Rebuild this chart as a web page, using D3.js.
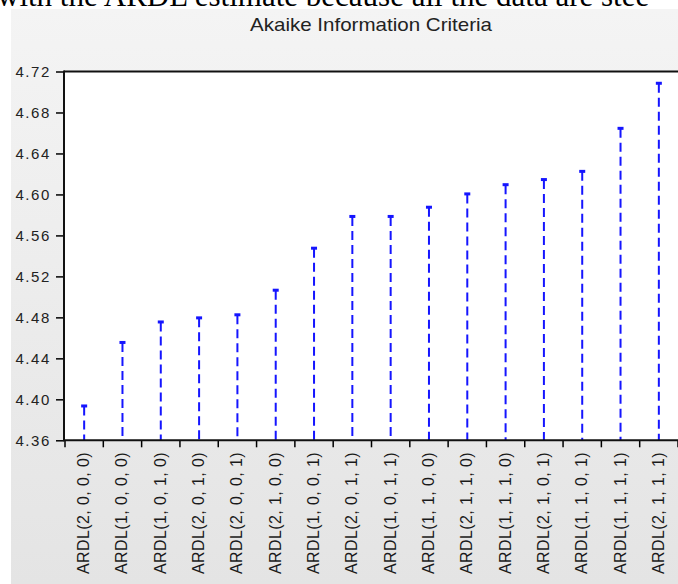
<!DOCTYPE html>
<html><head><meta charset="utf-8">
<script src="https://cdn.jsdelivr.net/npm/d3@7"></script>
<style>html,body{margin:0;padding:0;background:#fff;overflow:hidden}</style>
</head><body><svg id="c" width="678" height="584"></svg>
<script>
const categories = ["ARDL(2, 0, 0, 0)","ARDL(1, 0, 0, 0)","ARDL(1, 0, 1, 0)","ARDL(2, 0, 1, 0)","ARDL(2, 0, 0, 1)","ARDL(2, 1, 0, 0)","ARDL(1, 0, 0, 1)","ARDL(2, 0, 1, 1)","ARDL(1, 0, 1, 1)","ARDL(1, 1, 0, 0)","ARDL(2, 1, 1, 0)","ARDL(1, 1, 1, 0)","ARDL(2, 1, 0, 1)","ARDL(1, 1, 0, 1)","ARDL(1, 1, 1, 1)","ARDL(2, 1, 1, 1)"];
const aicValues = [4.394, 4.456, 4.476, 4.480, 4.483, 4.507, 4.548, 4.579, 4.579, 4.588, 4.601, 4.610, 4.615, 4.623, 4.665, 4.709];
const yTicks = [4.36, 4.40, 4.44, 4.48, 4.52, 4.56, 4.60, 4.64, 4.68, 4.72];
const title = "Akaike Information Criteria";
const aboveText = "with the ARDL estimate because all the data are stee";

const svg = d3.select("#c");
const defs = svg.append("defs");
const g = defs.append("linearGradient").attr("id","bg").attr("x1",0).attr("y1",0).attr("x2",0).attr("y2",1);
g.append("stop").attr("offset","0%").attr("stop-color","#f4f4f4");
g.append("stop").attr("offset","100%").attr("stop-color","#e4e4e4");

svg.append("text").attr("x",-3).attr("y",6).attr("font-family","Liberation Serif").attr("font-size",31)
  .attr("fill","#000").text(aboveText);

svg.append("rect").attr("x",11).attr("y",9).attr("width",667).attr("height",575).attr("fill","url(#bg)");

const pLeft = 64, pRight = 678, pTop = 71.5, pBottom = 440.3;
const y = d3.scaleLinear().domain([4.36, 4.72]).range([pBottom, pTop]);
const x = d3.scaleBand().domain(categories).range([65, 678]).paddingInner(0).paddingOuter(0);

svg.append("rect").attr("x",pLeft).attr("y",pTop).attr("width",pRight-pLeft).attr("height",pBottom-pTop).attr("fill","#fff");

svg.append("text").attr("x",371).attr("y",31).attr("text-anchor","middle")
  .attr("font-family","Liberation Sans, Arial").attr("font-size",19).attr("fill","#222")
  .attr("textLength",242).attr("lengthAdjust","spacingAndGlyphs").text(title);

// stems
const stems = svg.append("g");
categories.forEach((c,i)=>{
  const cx = x(c) + x.bandwidth()/2;
  stems.append("line").attr("x1",cx).attr("x2",cx).attr("y1",y(aicValues[i])+1).attr("y2",y(4.36))
    .attr("stroke","#1515ff").attr("stroke-width",2).attr("stroke-dasharray","9,5");
  stems.append("rect").attr("x",cx-3).attr("y",y(aicValues[i])-1).attr("width",6).attr("height",3).attr("fill","#1515ff");
});

// y axis
const yAxis = svg.append("g").attr("transform",`translate(${pLeft},0)`)
  .call(d3.axisLeft(y).tickValues(yTicks).tickFormat(d3.format(".2f")).tickSize(8).tickPadding(5));
yAxis.select(".domain").remove();
yAxis.selectAll(".tick line").attr("stroke","#000").attr("stroke-width",1.5);
yAxis.selectAll("text").attr("font-family","Liberation Sans, Arial").attr("font-size",15).attr("fill","#222")
  .attr("letter-spacing","1.6px").attr("dy","0.36em");

// x axis ticks at boundaries
const bounds = categories.map(c=>x(c)).concat([x.range()[1]]);
svg.append("g").selectAll("line").data(bounds).join("line")
  .attr("x1",d=>d).attr("x2",d=>d).attr("y1",pBottom).attr("y2",pBottom+7).attr("stroke","#000").attr("stroke-width",1.5);

svg.append("g").selectAll("text").data(categories).join("text")
  .attr("transform",d=>`translate(${x(d)+x.bandwidth()/2+5},452) rotate(-90)`)
  .attr("text-anchor","end").attr("font-family","Liberation Sans, Arial").attr("font-size",16)
  .attr("letter-spacing","0.4px").attr("fill","#1a1a1a").text(d=>d);

// frame lines
svg.append("line").attr("x1",pLeft).attr("x2",pRight).attr("y1",pTop).attr("y2",pTop).attr("stroke","#111").attr("stroke-width",2);
svg.append("line").attr("x1",pLeft).attr("x2",pLeft).attr("y1",pTop-1).attr("y2",pBottom+1).attr("stroke","#111").attr("stroke-width",2);
svg.append("line").attr("x1",pLeft).attr("x2",pRight).attr("y1",pBottom).attr("y2",pBottom).attr("stroke","#111").attr("stroke-width",2);
</script></body></html>
